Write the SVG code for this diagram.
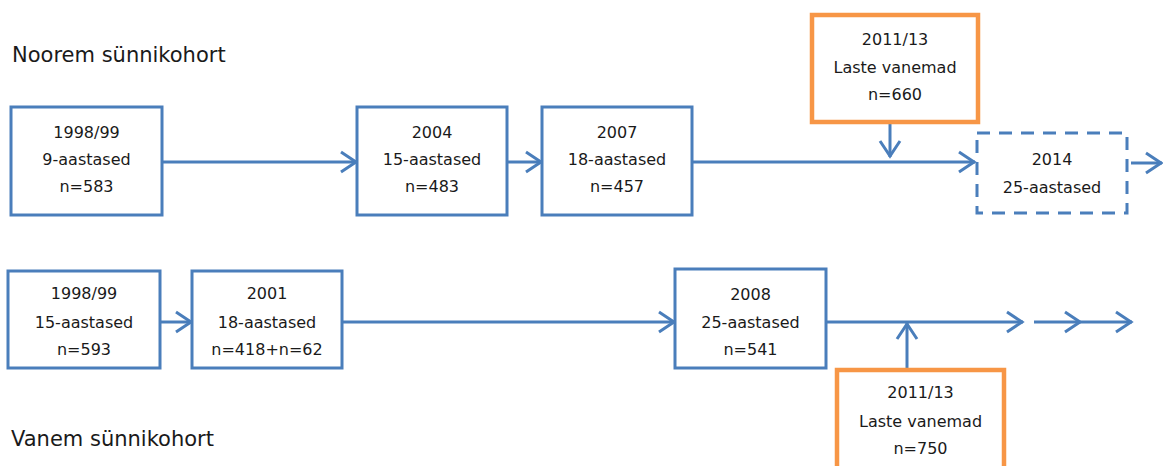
<svg xmlns="http://www.w3.org/2000/svg" width="1163" height="466" viewBox="0 0 1163 466">
<style>
.box{fill:#fff;stroke:#4A7EBB;stroke-width:3}
.obox{fill:#fff;stroke:#F79646;stroke-width:4.5}
.dbox{fill:#fff;stroke:#4A7EBB;stroke-width:3;stroke-dasharray:13 9}
.t{font-family:"DejaVu Sans",Verdana,sans-serif;font-size:16px;fill:#1a1a1a;text-anchor:middle}
.h{font-family:"DejaVu Sans",Verdana,sans-serif;font-size:21px;fill:#1a1a1a}
.c{stroke:#4A7EBB;stroke-width:3;fill:none;marker-end:url(#ah)}
</style>
<defs>
<marker id="ah" viewBox="-20 -13 24 26" refX="0" refY="0" markerWidth="24" markerHeight="26" markerUnits="userSpaceOnUse" orient="auto">
<path d="M-16,-10 L-1,0 L-16,10" fill="none" stroke="#4A7EBB" stroke-width="3"/>
</marker>
</defs>
<rect width="1163" height="466" fill="#fff"/>
<text class="h" x="12" y="62">Noorem sünnikohort</text>
<text class="h" x="11" y="446">Vanem sünnikohort</text>
<g id="connectors">
<line class="c" x1="162" y1="162" x2="357" y2="162"/>
<line class="c" x1="507" y1="162" x2="542" y2="162"/>
<line class="c" x1="692" y1="162" x2="975" y2="162"/>
<line class="c" x1="890" y1="122" x2="890" y2="157"/>
<line class="c" x1="1131" y1="163" x2="1162" y2="163"/>
<line class="c" x1="160" y1="322" x2="192" y2="322"/>
<line class="c" x1="342" y1="322" x2="675" y2="322"/>
<line class="c" x1="826" y1="322" x2="1023" y2="322"/>
<line class="c" x1="1034" y1="322" x2="1081" y2="322"/>
<line class="c" x1="1081" y1="322" x2="1132" y2="322"/>
<line class="c" x1="907" y1="370" x2="907" y2="323"/>
</g>
<g id="n1">
<rect class="box" x="11" y="107" width="151" height="108"/>
<text class="t" x="86.5" y="138">1998/99</text>
<text class="t" x="86.5" y="165">9-aastased</text>
<text class="t" x="86.5" y="192">n=583</text>
</g>
<g id="n2">
<rect class="box" x="357" y="107" width="150" height="108"/>
<text class="t" x="432" y="138">2004</text>
<text class="t" x="432" y="165">15-aastased</text>
<text class="t" x="432" y="192">n=483</text>
</g>
<g id="n3">
<rect class="box" x="542" y="107" width="150" height="108"/>
<text class="t" x="617" y="138">2007</text>
<text class="t" x="617" y="165">18-aastased</text>
<text class="t" x="617" y="192">n=457</text>
</g>
<g id="n4">
<rect class="obox" x="812" y="15" width="166" height="107"/>
<text class="t" x="895" y="45">2011/13</text>
<text class="t" x="895" y="73">Laste vanemad</text>
<text class="t" x="895" y="100">n=660</text>
</g>
<g id="n5">
<rect class="dbox" x="977" y="133" width="150" height="80"/>
<text class="t" x="1052" y="165">2014</text>
<text class="t" x="1052" y="193">25-aastased</text>
</g>
<g id="n6">
<rect class="box" x="8" y="271" width="152" height="97"/>
<text class="t" x="84" y="299">1998/99</text>
<text class="t" x="84" y="328">15-aastased</text>
<text class="t" x="84" y="355">n=593</text>
</g>
<g id="n7">
<rect class="box" x="192" y="271" width="150" height="97"/>
<text class="t" x="267" y="299">2001</text>
<text class="t" x="267" y="328">18-aastased</text>
<text class="t" x="267" y="355">n=418+n=62</text>
</g>
<g id="n8">
<rect class="box" x="675" y="269" width="151" height="99"/>
<text class="t" x="750.5" y="300">2008</text>
<text class="t" x="750.5" y="328">25-aastased</text>
<text class="t" x="750.5" y="355">n=541</text>
</g>
<g id="n9">
<rect class="obox" x="837" y="370" width="167" height="110"/>
<text class="t" x="920.5" y="398">2011/13</text>
<text class="t" x="920.5" y="427">Laste vanemad</text>
<text class="t" x="920.5" y="454">n=750</text>
</g>
</svg>
